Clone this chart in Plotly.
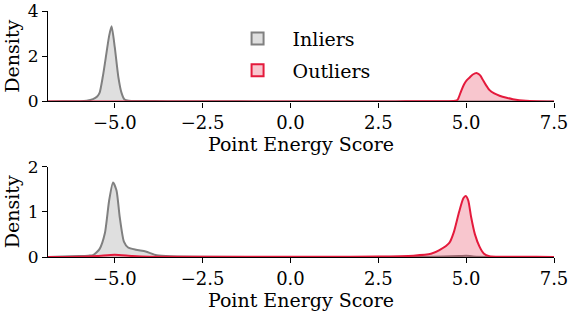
import plotly.graph_objects as go
from plotly.subplots import make_subplots

# ---- data ----
top_in_x = [-6.9, -6.5, -6.0, -5.8, -5.62, -5.5, -5.43, -5.34, -5.24, -5.16, -5.09, -5.0, -4.9, -4.81, -4.72, -4.6, -4.3, -3.5, -2.0, -1.0, 7.5]
top_in_y = [0.0, 0.01, 0.01, 0.03, 0.1, 0.22, 0.39, 1.1, 2.1, 2.9, 3.32, 2.4, 1.1, 0.39, 0.08, 0.03, 0.02, 0.01, 0.005, 0.0, 0.0]

top_out_x = [-6.9, 3.0, 3.7, 4.5, 4.7, 4.76, 4.86, 4.95, 5.02, 5.1, 5.19, 5.31, 5.4, 5.47, 5.56, 5.66, 5.8, 5.95, 6.15, 6.33, 6.7, 7.0, 7.5]
top_out_y = [0.0, 0.0, 0.005, 0.01, 0.03, 0.08, 0.47, 0.78, 0.94, 1.06, 1.19, 1.25, 1.15, 0.97, 0.73, 0.51, 0.35, 0.25, 0.16, 0.1, 0.03, 0.01, 0.0]

bot_in_x = [-6.9, -6.5, -6.0, -5.75, -5.62, -5.43, -5.28, -5.16, -5.05, -4.95, -4.86, -4.74, -4.62, -4.4, -4.12, -3.81, -3.4, -2.5, 0.0, 4.0, 4.8, 5.0, 5.2, 6.0, 7.5]
bot_in_y = [0.0, 0.01, 0.02, 0.03, 0.04, 0.18, 0.53, 1.25, 1.65, 1.47, 0.89, 0.34, 0.21, 0.16, 0.12, 0.04, 0.015, 0.005, 0.0, 0.005, 0.02, 0.03, 0.01, 0.0, 0.0]

bot_out_x = [-6.9, -6.0, -5.5, -5.0, -4.5, -4.0, -3.0, 1.0, 2.5, 3.5, 4.0, 4.24, 4.52, 4.65, 4.8, 4.92, 4.99, 5.06, 5.14, 5.25, 5.38, 5.5, 5.66, 6.0, 7.0, 7.5]
bot_out_y = [0.0, 0.005, 0.02, 0.05, 0.02, 0.005, 0.003, 0.005, 0.01, 0.03, 0.07, 0.15, 0.31, 0.55, 1.0, 1.3, 1.35, 1.25, 0.89, 0.5, 0.23, 0.08, 0.02, 0.005, 0.003, 0.0]

x_ticks = [-5.0, -2.5, 0.0, 2.5, 5.0, 7.5]
top_y_ticks = [0, 2, 4]
bot_y_ticks = [0, 1, 2]
series_names = ["Inliers", "Outliers"]

# ---- styles ----
FONT = "DejaVu Serif"
TICK_SIZE = 18
YTICK_SIZE = 17
TITLE_SIZE = 19
IN_LINE = "#808080"
IN_FILL = "rgba(128,128,128,0.25)"
OUT_LINE = "#e41a3c"
OUT_FILL = "rgba(228,26,60,0.25)"

fig = make_subplots(rows=2, cols=1, vertical_spacing=0.265)

panels = [
    (1, top_in_x, top_in_y, top_out_x, top_out_y),
    (2, bot_in_x, bot_in_y, bot_out_x, bot_out_y),
]
for row, ix, iy, ox, oy in panels:
    fig.add_trace(go.Scatter(x=ix, y=iy, mode="lines", fill="tozeroy",
                             line=dict(color=IN_LINE, width=2, shape="spline", smoothing=0.6),
                             fillcolor=IN_FILL, showlegend=False), row=row, col=1)
    fig.add_trace(go.Scatter(x=ox, y=oy, mode="lines", fill="tozeroy",
                             line=dict(color=OUT_LINE, width=2, shape="spline", smoothing=0.6),
                             fillcolor=OUT_FILL, showlegend=False), row=row, col=1)

# legend entries
for name, fc, lc in [(series_names[0], IN_FILL, IN_LINE), (series_names[1], OUT_FILL, OUT_LINE)]:
    fig.add_trace(go.Bar(x=[None], y=[None], name=name, legendgroup=name,
                         marker=dict(color=fc, line=dict(color=lc, width=2))), row=1, col=1)

axis_common = dict(showline=True, linecolor="black", linewidth=1.2, ticks="outside",
                   ticklen=5, tickcolor="black", showgrid=False, zeroline=False,
                   automargin=False, ticklabeloverflow="allow")

for r in (1, 2):
    fig.update_xaxes(range=[-6.9, 7.5], tickvals=x_ticks, tickformat=".1f",
                     tickfont=dict(family=FONT, size=TICK_SIZE, color="black"),
                     title=dict(text="Point Energy Score", font=dict(family=FONT, size=TITLE_SIZE, color="black"), standoff=2),
                     row=r, col=1, **axis_common)
fig.update_yaxes(range=[0, 4], tickvals=top_y_ticks,
                 tickfont=dict(family=FONT, size=YTICK_SIZE, color="black"),
                 title=dict(text="Density", font=dict(family=FONT, size=TITLE_SIZE, color="black"), standoff=3),
                 row=1, col=1, **axis_common)
fig.update_yaxes(range=[0, 2], tickvals=bot_y_ticks,
                 tickfont=dict(family=FONT, size=YTICK_SIZE, color="black"),
                 title=dict(text="Density", font=dict(family=FONT, size=TITLE_SIZE, color="black"), standoff=3),
                 row=2, col=1, **axis_common)

fig.update_layout(
    width=568, height=316,
    margin=dict(l=48, r=14, t=11, b=59),
    plot_bgcolor="white", paper_bgcolor="white",
    font=dict(family=FONT, size=TICK_SIZE, color="black"),
    legend=dict(x=0.345, y=0.965, xanchor="left", yanchor="top", bgcolor="rgba(0,0,0,0)",
                tracegroupgap=4, itemwidth=60, font=dict(family=FONT, size=TITLE_SIZE)),
)

fig.write_html("out.html", config={"displayModeBar": False},
               post_script="document.body.style.margin='0';")
